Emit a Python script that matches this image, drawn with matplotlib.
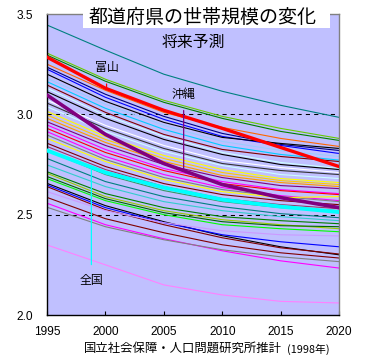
import matplotlib
matplotlib.use('Agg')
import matplotlib.pyplot as plt
import numpy as np
from matplotlib.patches import Rectangle

years = [1995, 2000, 2005, 2010, 2015, 2020]

# household size per prefecture, top to bottom at 1995
toyama = [3.285, 3.13, 3.02, 2.93, 2.835, 2.74]
okinawa = [3.096, 2.90, 2.755, 2.65, 2.585, 2.535]
zenkoku = [2.82, 2.71, 2.635, 2.575, 2.54, 2.513]

other_prefs = [
    [3.445, 3.32, 3.20, 3.115, 3.045, 2.985],
    [3.305, 3.175, 3.07, 2.99, 2.93, 2.88],
    [3.295, 3.165, 3.06, 2.98, 2.915, 2.87],
    [3.25, 3.12, 3.01, 2.935, 2.88, 2.84],
    [3.235, 3.10, 2.99, 2.905, 2.85, 2.82],
    [3.225, 3.085, 2.975, 2.89, 2.845, 2.805],
    [3.20, 3.065, 2.96, 2.885, 2.855, 2.83],
    [3.18, 3.05, 2.945, 2.865, 2.82, 2.79],
    [3.163, 3.03, 2.925, 2.845, 2.80, 2.772],
    [3.146, 3.01, 2.90, 2.825, 2.79, 2.765],
    [3.13, 2.995, 2.89, 2.81, 2.76, 2.73],
    [3.113, 2.98, 2.875, 2.80, 2.75, 2.725],
    [3.07, 2.945, 2.845, 2.77, 2.735, 2.71],
    [3.056, 2.93, 2.83, 2.755, 2.72, 2.70],
    [3.038, 2.915, 2.815, 2.745, 2.70, 2.68],
    [3.015, 2.89, 2.795, 2.725, 2.68, 2.66],
    [2.997, 2.875, 2.78, 2.71, 2.67, 2.65],
    [2.98, 2.86, 2.765, 2.695, 2.66, 2.64],
    [2.963, 2.845, 2.75, 2.685, 2.645, 2.63],
    [2.947, 2.825, 2.73, 2.665, 2.625, 2.605],
    [2.93, 2.81, 2.72, 2.655, 2.62, 2.60],
    [2.914, 2.79, 2.70, 2.635, 2.595, 2.57],
    [2.897, 2.775, 2.685, 2.625, 2.59, 2.565],
    [2.88, 2.765, 2.675, 2.615, 2.585, 2.59],
    [2.856, 2.74, 2.655, 2.60, 2.57, 2.55],
    [2.84, 2.725, 2.64, 2.58, 2.55, 2.53],
    [2.82, 2.70, 2.62, 2.565, 2.535, 2.52],
    [2.78, 2.665, 2.59, 2.54, 2.505, 2.485],
    [2.748, 2.64, 2.565, 2.52, 2.49, 2.47],
    [2.714, 2.605, 2.535, 2.49, 2.47, 2.455],
    [2.706, 2.59, 2.52, 2.475, 2.45, 2.43],
    [2.69, 2.58, 2.51, 2.465, 2.445, 2.44],
    [2.68, 2.57, 2.50, 2.45, 2.43, 2.415],
    [2.656, 2.545, 2.465, 2.395, 2.34, 2.30],
    [2.648, 2.535, 2.46, 2.40, 2.365, 2.34],
    [2.64, 2.525, 2.45, 2.385, 2.335, 2.304],
    [2.615, 2.52, 2.46, 2.42, 2.40, 2.394],
    [2.586, 2.48, 2.41, 2.35, 2.31, 2.284],
    [2.557, 2.45, 2.38, 2.32, 2.27, 2.234],
    [2.537, 2.44, 2.375, 2.325, 2.29, 2.266],
    [2.349, 2.25, 2.15, 2.10, 2.068, 2.06],
]

other_colors = [
    '#008080', '#66CC00', '#008000', '#FF6600', '#000080', '#0000FF',
    '#000000', '#99CCFF', '#00CCFF', '#800000', '#CCFFFF', '#000000',
    '#FFFFFF', '#333333', '#CCFFFF', '#FFFF00', '#FFCC00', '#FF9900',
    '#800080', '#FF00FF', '#FF0000', '#FF00FF', '#808080', '#FFFF00',
    '#800000', '#993366', '#339966', '#008080', '#33CCCC', '#008000',
    '#99CC00', '#006600', '#00FF00', '#000000', '#0000FF', '#800000',
    '#CC99FF', '#800000', '#FF00FF', '#808080', '#FF80FF',
]

title = '都道府県の世帯規模の変化'
subtitle = '将来予測'
source = '国立社会保障・人口問題研究所推計'
source_year = '(1998年)'

jp = ['Noto Sans CJK JP', 'DejaVu Sans']

fig = plt.figure(figsize=(3.7, 3.55), dpi=100)
ax = fig.add_axes([47 / 370, 40 / 355, 292 / 370, 301 / 355])
ax.set_facecolor('#C0C0FF')

for vals, c in zip(other_prefs, other_colors):
    ax.plot(years, vals, color=c, lw=0.8, zorder=2)

ax.plot(years, zenkoku, color='#00FFFF', lw=2.8, zorder=3)
ax.plot(years, toyama, color='#FF0000', lw=2.4, zorder=4)
ax.plot(years, okinawa, color='#800080', lw=2.6, zorder=4)

for yv in (3.0, 2.5):
    ax.axhline(yv, color='black', lw=0.75, ls=(0, (4, 4)), zorder=1)

ax.set_xlim(1995, 2020)
ax.set_ylim(2.0, 3.5)
ax.set_xticks(range(1995, 2021, 5))
ax.set_yticks([2.0, 2.5, 3.0, 3.5])
ax.set_yticklabels(['2.0', '2.5', '3.0', '3.5'])
ax.tick_params(axis='x', direction='in', length=3, pad=8, labelsize=8.6)
ax.tick_params(axis='y', length=0, pad=10, labelsize=8.6)
for lab in ax.get_xticklabels() + ax.get_yticklabels():
    lab.set_fontfamily('Liberation Sans')

ax.spines['left'].set_color('black')
ax.spines['bottom'].set_color('black')
ax.spines['top'].set_color('#808080')
ax.spines['right'].set_color('#808080')
for s in ax.spines.values():
    s.set_linewidth(1.0)

# pointers to labelled lines
def pointer(series, yr, label_y, text, color):
    y_at = np.interp(yr, years, series)
    ax.annotate(text, xy=(yr, y_at), xytext=(yr, label_y),
                ha='center', va='center', fontsize=8.6, family=jp,
                arrowprops=dict(arrowstyle='-', color=color, lw=0.9,
                                shrinkA=5, shrinkB=0), zorder=6)

pointer(toyama, 2000.1, 3.232, '富山', '#FF0000')
pointer(okinawa, 2006.7, 3.10, '沖縄', '#800080')
pointer(zenkoku, 1998.8, 2.17, '全国', '#00FFFF')

# title box
fig.patches.append(Rectangle((83 / 370, 1 - 28 / 355), (330 - 83) / 370, 28 / 355,
                             transform=fig.transFigure, facecolor='white',
                             edgecolor='none', zorder=10))
fig.text(203 / 370, 1 - 17 / 355, title, ha='center', va='center',
         fontsize=13.7, family=jp, zorder=11)
ax.text(0.5, 0.905, subtitle, transform=ax.transAxes, ha='center', va='center',
        fontsize=11.4, family=jp, zorder=7)

fig.text(84 / 370, 1 - 348 / 355, source, ha='left', va='center',
         fontsize=8.9, family=jp)
fig.text(287 / 370, 1 - 349 / 355, source_year, ha='left', va='center',
         fontsize=7.8, family=jp)

fig.savefig('out.png', dpi=100)
